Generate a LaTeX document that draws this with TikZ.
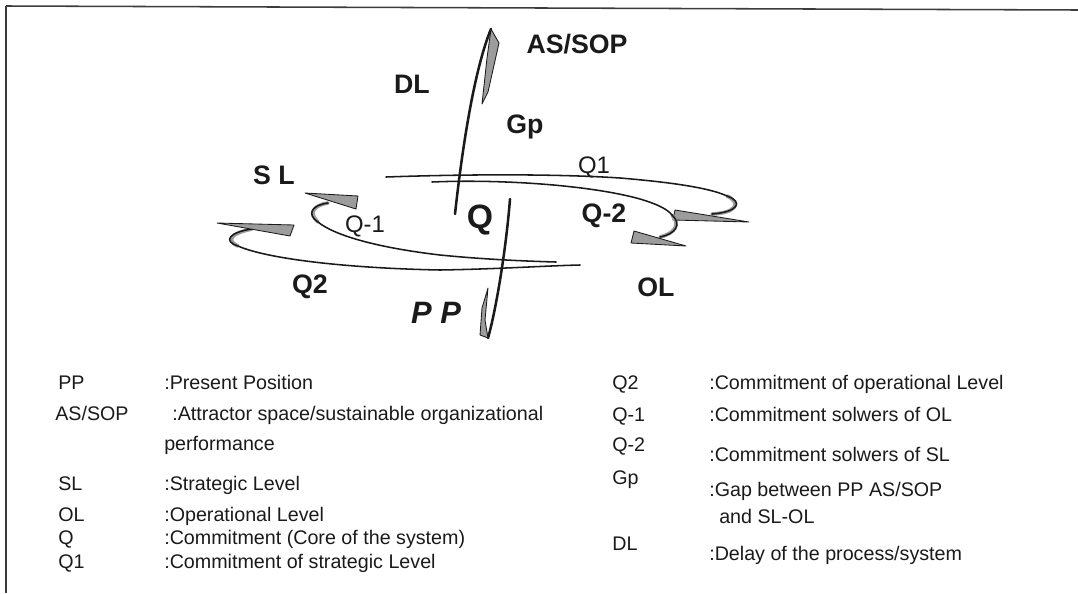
\documentclass[tikz,border=0pt]{standalone}
\usepackage{fontspec}
\setmainfont{Liberation Sans}
\usepackage{tikz}
\usetikzlibrary{arrows.meta, positioning, calc}
\definecolor{inkblack}{HTML}{1A1A1A}
\definecolor{barbgray}{HTML}{9C9C9C}
\tikzset{
  lbl/.style={font=\fontsize{19}{22}\selectfont\bfseries, inner sep=0pt, text=inkblack},
  lblthin/.style={font=\fontsize{17}{20}\selectfont, inner sep=0pt, text=inkblack},
  keytxt/.style={font=\fontsize{14}{16}\selectfont, inner sep=0pt, anchor=base west, text=inkblack},
  stem/.style={draw=inkblack, line width=1.8pt, line cap=round},
  loopline/.style={draw=inkblack, line width=1.1pt, line cap=round},
  band/.style={draw=barbgray, line width=2.6pt, line cap=round},
  barb/.style={fill=barbgray, draw=inkblack, line width=0.6pt, line join=round},
  frameline/.style={draw=inkblack!85, line width=1.1pt},
}

\begin{document}
\begin{tikzpicture}[x=0.025cm, y=-0.025cm]
  \useasboundingbox (0,0) rectangle (1078,593);
  \draw[frameline] (6,6) -- (1078,10);
  \draw[frameline] (6,6) -- (6,593);

  % vertical strokes
  \coordinate (gpFoot) at (455,214);
  \coordinate (asTip) at (491,29);
  \coordinate (qTop) at (510,199);
  \coordinate (ppTip) at (488,338);
  \draw[stem] (gpFoot) .. controls (462,150) and (474,70) .. (asTip);
  \draw[barb] (asTip) -- (499,43) -- (488,92) -- (482,104) -- (487,58) -- cycle;
  \draw[stem] (qTop) .. controls (506,250) and (496,310) .. (ppTip);
  \draw[barb] (488,288) -- (485,320) -- (ppTip) -- (480,335) -- (482,308) -- cycle;

  % Q1 loop (upper right)
  \coordinate (qoneStart) at (386,177);
  \coordinate (qoneBend) at (727,196);
  \coordinate (qoneEnd) at (712,214);
  \draw[band] (qoneBend) .. controls (742,203) and (736,213) .. (qoneEnd);
  \draw[loopline] (qoneStart) .. controls (470,174) and (560,174) .. (620,178)
    .. controls (680,183) and (712,189) .. (qoneBend)
    .. controls (744,202) and (738,212) .. (qoneEnd);
  \draw[barb] (675,210) -- (749,222) -- (673,220) -- cycle;

  % Q-2 loop (lower right)
  \coordinate (qmtwoStart) at (432,182);
  \coordinate (qmtwoBend) at (672,215);
  \coordinate (qmtwoEnd) at (660,237);
  \draw[band] (qmtwoBend) .. controls (680,224) and (676,233) .. (qmtwoEnd);
  \draw[loopline] (qmtwoStart) .. controls (500,179) and (590,185) .. (640,199)
    .. controls (660,205) and (668,210) .. (qmtwoBend)
    .. controls (682,224) and (676,234) .. (qmtwoEnd);
  \draw[barb] (634,231) -- (686,246) -- (631,243) -- cycle;

  % Q-1 loop (upper left)
  \coordinate (qmoneEnd) at (556,262);
  \coordinate (qmoneHook) at (328,203);
  \coordinate (qmoneBend) at (318,222);
  \draw[band] (qmoneHook) .. controls (314,205) and (308,213) .. (qmoneBend);
  \draw[loopline] (qmoneHook) .. controls (312,205) and (306,214) .. (qmoneBend)
    .. controls (335,236) and (380,248) .. (440,255)
    .. controls (480,259) and (520,261) .. (qmoneEnd);
  \draw[barb] (305,193) -- (358,196) -- (356,209) -- cycle;

  % Q2 loop (lower left)
  \coordinate (qtwoEnd) at (580,265);
  \coordinate (qtwoHook) at (252,229);
  \coordinate (qtwoBend) at (238,246);
  \draw[band] (qtwoHook) .. controls (232,233) and (225,240) .. (qtwoBend);
  \draw[loopline] (qtwoHook) .. controls (230,232) and (222,241) .. (qtwoBend)
    .. controls (265,258) and (340,268) .. (440,270)
    .. controls (500,269) and (540,266) .. (qtwoEnd);
  \draw[barb] (217,223) -- (294,225) -- (290,236) -- cycle;

  % labels
  \node[lbl] (assop) at (577,44) {AS/SOP};
  \node[lbl] (dl) at (412,84) {DL};
  \node[lbl] (gp) at (525,127) {Gp};
  \node[lblthin] (qone) at (594,167) {Q1};
  \node[lbl] (sl) at (274,175) {S L};
  \node[lblthin] (qmone) at (365,226) {Q-1};
  \node[lbl, font=\fontsize{24}{26}\selectfont\bfseries] (q) at (480,220) {Q};
  \node[lbl] (qmtwo) at (604,216) {Q-2};
  \node[lbl] (qtwo) at (310,287) {Q2};
  \node[lbl] (ol) at (656,287) {OL};
  \node[lbl, font=\fontsize{22}{24}\selectfont\bfseries\itshape] (pp) at (436,313) {P P};

  % legend, left column
  \node[keytxt] (kpp) at (58,389) {PP};
  \node[keytxt] (dpp) at (164,389) {:Present Position};
  \node[keytxt] (kas) at (55,420) {AS/SOP};
  \node[keytxt] (das) at (172,420) {:Attractor space/sustainable organizational};
  \node[keytxt] (das2) at (164,450) {performance};
  \node[keytxt] (ksl) at (58,490) {SL};
  \node[keytxt] (dsl) at (164,490) {:Strategic Level};
  \node[keytxt] (kol) at (58,521) {OL};
  \node[keytxt] (dol) at (164,521) {:Operational Level};
  \node[keytxt] (kq) at (58,544) {Q};
  \node[keytxt] (dq) at (164,544) {:Commitment (Core of the system)};
  \node[keytxt] (kqone) at (58,568) {Q1};
  \node[keytxt] (dqone) at (164,568) {:Commitment of strategic Level};

  % legend, right column
  \node[keytxt] (kqtwo) at (612,389) {Q2};
  \node[keytxt] (dqtwo) at (709,389) {:Commitment of operational Level};
  \node[keytxt] (kqmone) at (612,421) {Q-1};
  \node[keytxt] (dqmone) at (709,421) {:Commitment solwers of OL};
  \node[keytxt] (kqmtwo) at (612,451) {Q-2};
  \node[keytxt] (dqmtwo) at (709,461) {:Commitment solwers of SL};
  \node[keytxt] (kgp) at (612,484) {Gp};
  \node[keytxt] (dgp) at (709,496) {:Gap between PP AS/SOP};
  \node[keytxt] (dgp2) at (719,523) {and SL-OL};
  \node[keytxt] (kdl) at (612,550) {DL};
  \node[keytxt] (ddl) at (709,560) {:Delay of the process/system};
\end{tikzpicture}
\end{document}
